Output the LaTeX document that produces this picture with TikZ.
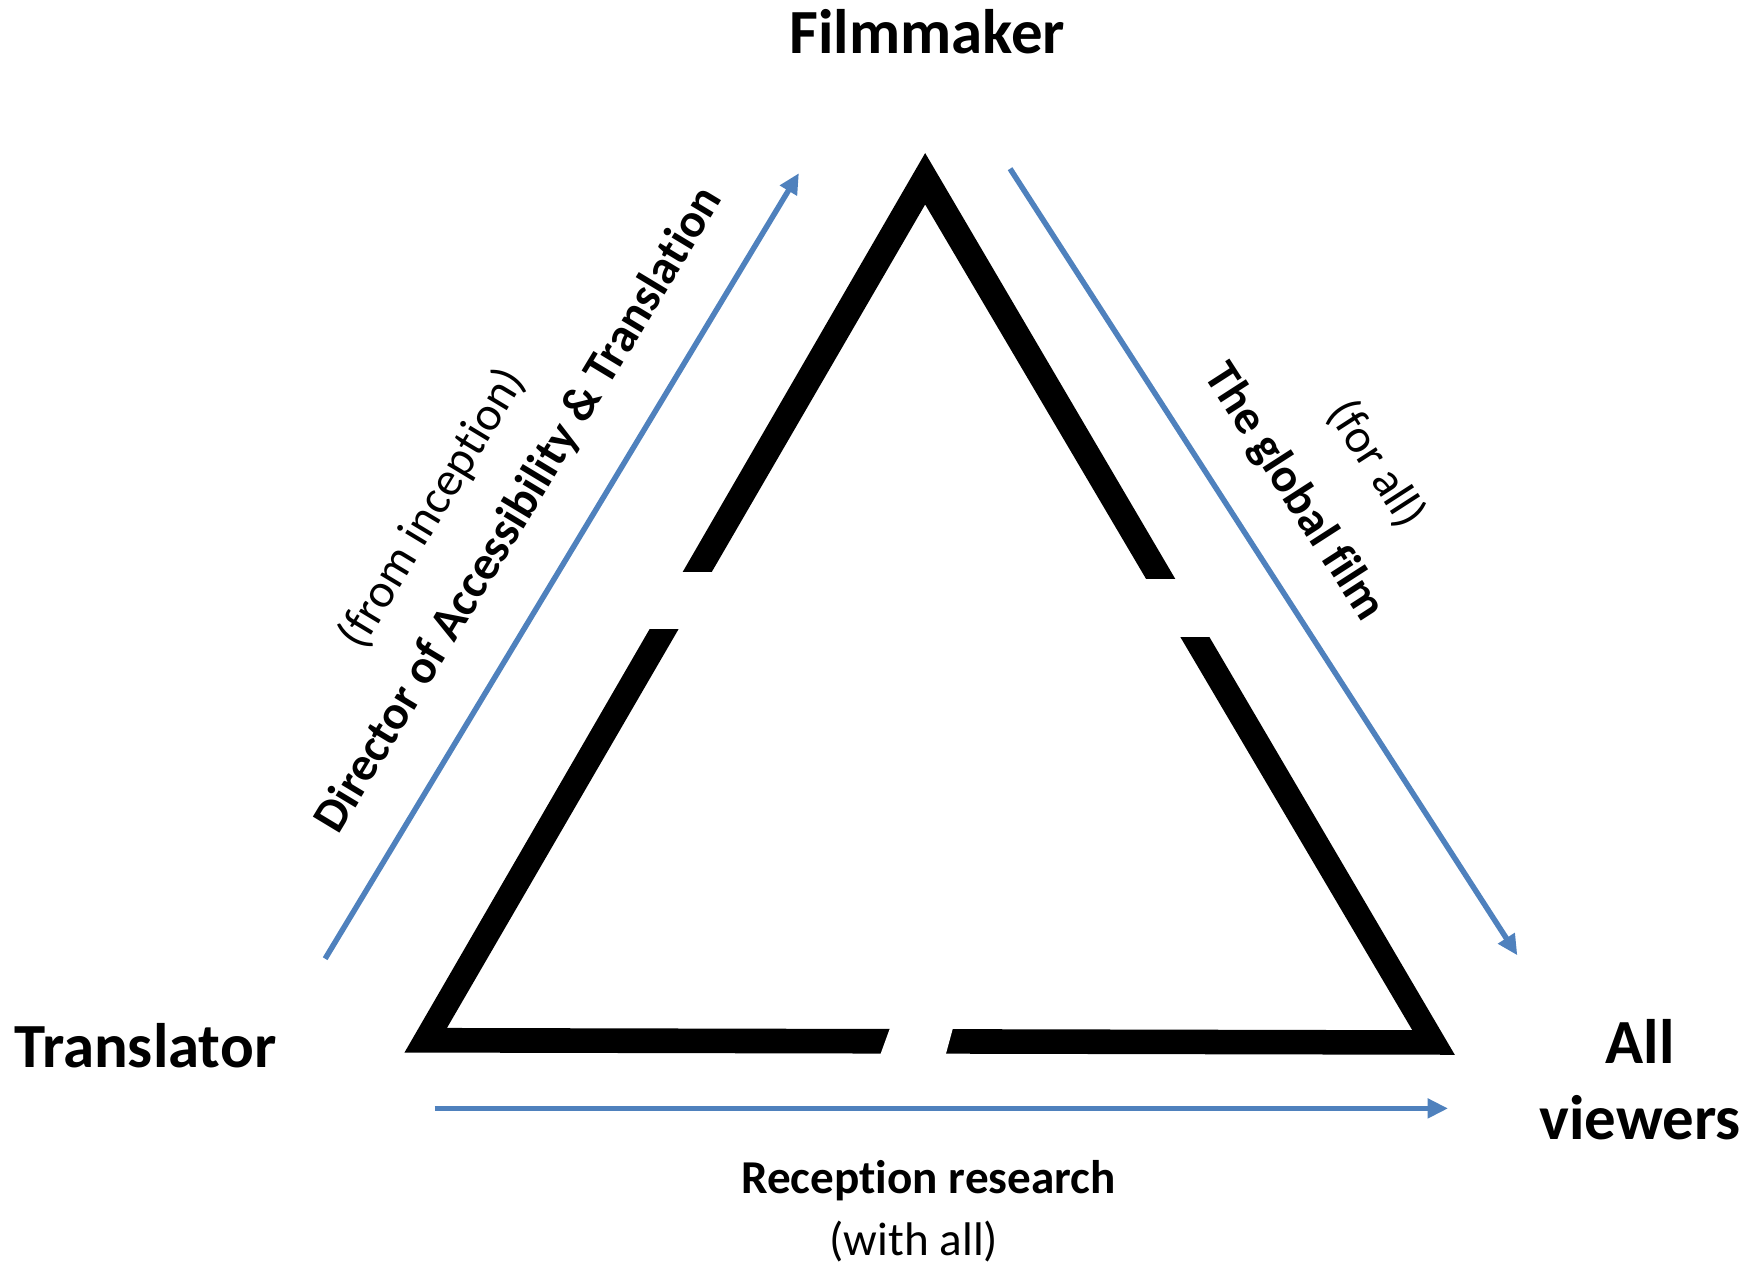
\documentclass[tikz,border=0pt]{standalone}
\usepackage{fontspec}
\setmainfont{Carlito}[Ligatures=NoCommon]
\usepackage{tikz}
\usetikzlibrary{arrows.meta,positioning}
\definecolor{flowblue}{RGB}{79,129,189}
\tikzstyle{arrow} = [flowblue,line width=1.4pt,-{Triangle[length=5.2pt,width=4.8pt]}]
\tikzstyle{corner} = [font=\fontsize{16}{19.3}\selectfont\bfseries,align=center,inner sep=0pt]
\tikzstyle{sidetitle} = [font=\fontsize{12.2}{15}\selectfont\bfseries,inner sep=0pt]
\tikzstyle{sidenote} = [font=\fontsize{12.2}{15}\selectfont,inner sep=0pt]
\tikzstyle{bottomtitle} = [font=\fontsize{12}{14}\selectfont\bfseries,inner sep=0pt]
\tikzstyle{bottomnote} = [font=\fontsize{12}{14}\selectfont,inner sep=0pt]

\begin{document}
\begin{tikzpicture}[x=0.01cm,y=-0.01cm]
        \useasboundingbox (0,0) rectangle (1568,1136);
        \fill[black,even odd rule] (362,942) -- (828,137) -- (1302,944) -- cycle
            (400,920) -- (828,183) -- (1264,922) -- cycle;
        \fill[white] (550,512) rectangle (680,563);
        \fill[white] (1000,518) rectangle (1120,570);
        \fill[white] (802,905) -- (782,960) -- (842,960) -- (857,905) -- cycle;

        \node[corner,anchor=base] (filmmaker) at (830,48) {Filmmaker};
        \node[corner,anchor=base] (translator) at (130,955) {Translator};
        \node[corner] (viewers) at (1468,966) {All\\viewers};

        \coordinate (up0) at (291,858);
        \coordinate (up1) at (715,155);
        \coordinate (down0) at (904,151);
        \coordinate (down1) at (1358,855);
        \coordinate (across0) at (389,992);
        \coordinate (across1) at (1296,992);
        \draw[arrow] (up0) -- (up1);
        \draw[arrow] (down0) -- (down1);
        \draw[arrow] (across0) -- (across1);

        \node[sidetitle,rotate=58.9] (director) at (465,457) {Director of Accessibility \& Translation};
        \node[sidenote,rotate=58.9] (inception) at (387,455) {(from inception)};
        \node[sidetitle,rotate=-57.2] (globalfilm) at (1158,441) {The global film};
        \node[sidenote,rotate=-57.2] (forall) at (1232,415) {(for all)};
        \node[bottomtitle,anchor=base] (reception) at (831,1068) {Reception research};
        \node[bottomnote,anchor=base] (withall) at (818,1124) {(with all)};
    \end{tikzpicture}
\end{document}
